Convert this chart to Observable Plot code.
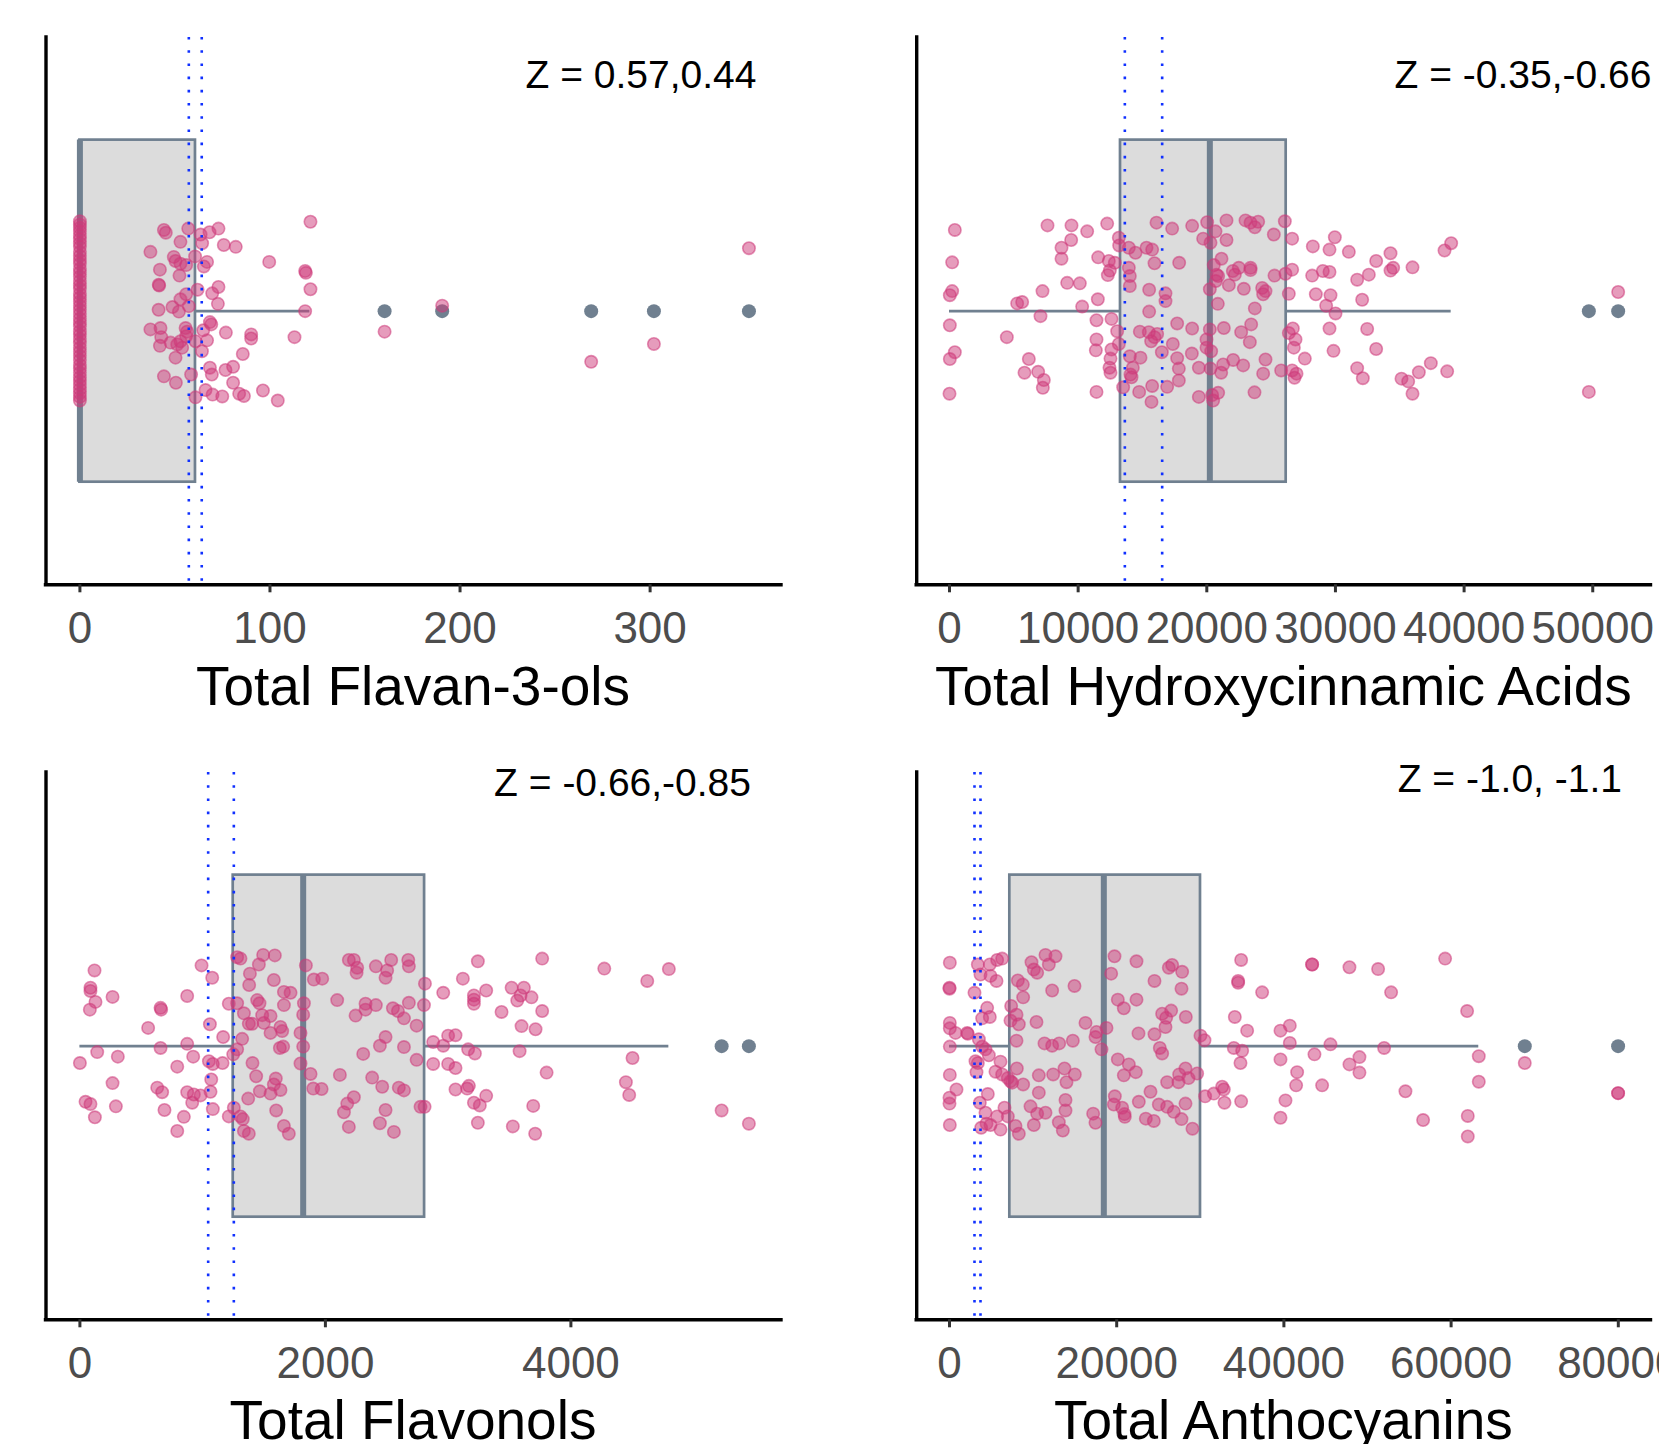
<!DOCTYPE html>
<html><head><meta charset="utf-8">
<script src="https://cdn.jsdelivr.net/npm/d3@7"></script>
<script src="https://cdn.jsdelivr.net/npm/@observablehq/plot@0.6"></script>
<style>
html,body{margin:0;padding:0;background:#fff;overflow:hidden;width:1659px;height:1444px;}
#chart{position:relative;width:1659px;height:1444px;overflow:hidden;}
.panel{position:absolute;}
</style>
</head><body><div id="chart"></div>
<script>
// ---------- data: [value, vertical jitter] ----------
const flavan3olsPoints = [
[0,0.197],[0,0.19],[0,0.183],[0,0.175],[0,0.166],[0,0.158],[0,0.149],[0,0.141],[0,0.13],[0,0.121],[0,0.112],[0,0.104],[0,0.093],[0,0.085],[0,0.076],[0,0.066],[0,0.057],[0,0.049],[0,0.038],[0,0.03],[0,0.021],[0,0.012],[0,0.003],[0,-0.006],[0,-0.016],[0,-0.025],[0,-0.033],[0,-0.044],[0,-0.052],[0,-0.061],[0,-0.07],[0,-0.08],[0,-0.089],[0,-0.098],[0,-0.107],[0,-0.118],[0,-0.126],[0,-0.135],[0,-0.145],[0,-0.153],[0,-0.162],[0,-0.171],[0,-0.18],[0,-0.188],[0,-0.196],
[121.3,0.196],[44.2,0.178],[45.2,0.172],[57.0,0.181],[63.5,0.168],[68.2,0.173],[72.9,0.181],[52.9,0.152],[64.3,0.149],[75.7,0.145],[82.0,0.141],[37.1,0.130],[49.4,0.119],[50.3,0.110],[52.9,0.104],[55.9,0.101],[60.6,0.120],[66.9,0.108],[65.2,0.098],[99.6,0.108],[42.1,0.091],[118.5,0.088],[118.9,0.084],[52.4,0.078],[41.5,0.058],[41.7,0.056],[72.9,0.053],[61.9,0.047],[69.6,0.039],[121.3,0.048],[55.9,0.037],[52.9,0.026],[72.6,0.016],[41.4,0.003],[48.7,0.009],[52.1,-0.001],[57.3,0.011],[118.5,0.000],[190.6,0.012],[160.3,-0.045],[68.4,-0.024],[69.1,-0.029],[37.1,-0.040],[42.4,-0.037],[42.8,-0.057],[55.6,-0.037],[56.4,-0.045],[55.9,-0.055],[64.9,-0.042],[76.8,-0.047],[90.1,-0.051],[90.1,-0.060],[112.9,-0.057],[42.1,-0.076],[47.7,-0.069],[51.2,-0.073],[53.8,-0.080],[52.9,-0.066],[60.8,-0.066],[66.9,-0.064],[64.2,-0.088],[85.7,-0.094],[50.3,-0.102],[68.4,-0.124],[69.4,-0.139],[76.6,-0.129],[80.6,-0.122],[44.2,-0.143],[50.5,-0.157],[58.5,-0.139],[80.6,-0.157],[66.1,-0.173],[69.8,-0.183],[74.9,-0.187],[83.8,-0.181],[86.3,-0.186],[96.3,-0.174],[60.8,-0.189],[104.1,-0.196],[352.0,0.138],[269.0,-0.111],[302.0,-0.072]
];
const hydroxycinnamicPoints = [
[415,0.178],[207,0.107],[207,0.044],[26,0.035],[26,-0.031],[415,-0.090],[26,-0.105],[0,-0.181],
[7618,0.188],[9483,0.188],[10701,0.175],[12255,0.192],[9457,0.156],[8706,0.139],[8706,0.115],[11556,0.118],[9146,0.062],[10131,0.061],[7229,0.044],[5260,0.017],[5648,0.020],[10312,0.010],[11530,0.026],[7073,-0.011],[11426,-0.020],[12592,-0.017],[4457,-0.057],[11426,-0.062],[11375,-0.086],[6167,-0.105],[5830,-0.135],[6892,-0.133],[7333,-0.151],[7255,-0.168],[11426,-0.177],
[13162,0.161],[13188,0.144],[13940,0.139],[14458,0.128],[12385,0.110],[12851,0.106],[12307,0.079],[12463,0.089],[13940,0.095],[14017,0.077],[14017,0.055],[13033,-0.044],[12592,-0.084],[13162,-0.072],[12514,-0.104],[12437,-0.124],[12514,-0.135],[14017,-0.099],[14846,-0.102],[14069,-0.139],[14147,-0.145],[14251,-0.124],[13499,-0.167],[14743,-0.177],[15701,-0.199],
[15313,0.139],[15753,0.135],[16090,0.194],[17308,0.181],[18862,0.187],[20028,0.195],[20676,0.175],[19718,0.159],[20288,0.150],[21532,0.156],[15935,0.105],[17852,0.106],[20547,0.101],[21143,0.115],[20754,0.080],[20883,0.077],[20702,0.066],[22024,0.088],[22179,0.080],[22490,0.095],[23397,0.095],[23397,0.090],[20236,0.048],[21713,0.057],[22879,0.049],[24304,0.051],[24381,0.037],[24563,0.044],[15520,0.047],[16790,0.039],[16790,0.022],[20858,0.016],[23734,0.006],[15520,-0.001],
[21532,0.199],[23008,0.199],[23397,0.194],[23734,0.184],[23993,0.196],[26065,0.197],[25210,0.168],[26635,0.159],[25262,0.078],[26117,0.082],[26376,0.038],[26635,0.091],
[17697,-0.027],[18862,-0.038],[20236,-0.040],[21324,-0.037],[14795,-0.045],[15494,-0.046],[16142,-0.050],[15675,-0.066],[15935,-0.057],[17360,-0.072],[19976,-0.062],[19976,-0.080],[20339,-0.088],[22671,-0.046],[23449,-0.029],[23345,-0.068],[16505,-0.090],[17697,-0.103],[17826,-0.126],[17826,-0.152],[18837,-0.093],[19381,-0.124],[20288,-0.126],[21117,-0.135],[21272,-0.117],[22049,-0.107],[22827,-0.119],[24563,-0.106],[24381,-0.137],[25780,-0.130],[15753,-0.164],[16919,-0.166],[19381,-0.188],[20417,-0.184],[20883,-0.179],[20495,-0.196],[23708,-0.178],[26376,-0.048],[26765,-0.080],[26635,-0.130],
[28242,0.142],[29538,0.135],[29952,0.162],[31041,0.130],[28190,0.078],[29020,0.088],[29538,0.086],[31688,0.069],[32595,0.080],[33165,0.110],[34279,0.127],[34279,0.089],[34487,0.095],[35990,0.096],[38477,0.133],[38995,0.149],[28475,0.037],[29616,0.035],[29279,0.012],[30004,-0.005],[32077,0.025],[51976,0.042],[26688,-0.038],[26895,-0.062],[29538,-0.038],[32466,-0.039],[29849,-0.087],[33165,-0.083],[27620,-0.104],[26973,-0.137],[26817,-0.146],[31688,-0.125],[32129,-0.147],[35134,-0.148],[35653,-0.154],[35990,-0.181],[36482,-0.134],[37414,-0.114],[38684,-0.132],[49696,-0.177]
];
const flavonolsPoints = [
[119,0.166],[86,0.128],[86,0.121],[127,0.097],[81,0.080],[266,0.108],[657,0.084],[662,0.080],[556,0.040],[874,0.110],[991,0.177],[1078,0.150],[1059,0.048],[1167,0.020],[874,0.005],[657,-0.004],[141,-0.013],[309,-0.023],[0,-0.037],[923,-0.023],[793,-0.045],[1051,-0.033],[1083,-0.039],[1162,-0.037],[1070,-0.073],[266,-0.081],[630,-0.091],[670,-0.101],[874,-0.101],[928,-0.106],[983,-0.108],[915,-0.124],[1064,-0.100],[46,-0.122],[86,-0.127],[293,-0.132],[122,-0.156],[689,-0.140],[847,-0.155],[793,-0.186],[1083,-0.138],[1213,-0.154],[1254,-0.135],
[1281,0.195],[1308,0.192],[1493,0.200],[1588,0.199],[1458,0.179],[1385,0.159],[1379,0.134],[1580,0.145],[1662,0.119],[1716,0.117],[1662,0.090],[1281,0.094],[1213,0.093],[1444,0.101],[1463,0.094],[1336,0.072],[1485,0.068],[1553,0.066],[1376,0.049],[1403,0.049],[1498,0.051],[1553,0.029],[1634,0.042],[1648,0.033],[1629,-0.004],[1656,-0.001],[1322,0.016],[1249,-0.018],[1281,-0.007],[1406,-0.037],[1436,-0.066],[1466,-0.099],[1553,-0.104],[1596,-0.071],[1580,-0.084],[1634,-0.096],[1371,-0.115],[1599,-0.141],[1308,-0.154],[1327,-0.160],[1336,-0.186],[1376,-0.192],[1662,-0.175],[1702,-0.192],
[1841,0.177],[1906,0.146],[1974,0.148],[1825,0.094],[1819,0.069],[1797,0.029],[1819,-0.001],[1797,-0.038],[1879,-0.061],[1901,-0.093],[1969,-0.094],[2096,0.101],[2118,-0.063],[2191,0.189],[2232,0.189],[2259,0.172],[2254,0.161],[2411,0.175],[2503,0.166],[2490,0.150],[2536,0.189],[2675,0.189],[2680,0.175],[2246,0.067],[2327,0.093],[2327,0.080],[2411,0.090],[2550,0.083],[2591,0.077],[2640,0.061],[2680,0.095],[2743,0.045],[2490,0.020],[2444,0.001],[2640,-0.002],[2308,-0.017],[2743,-0.030],[2381,-0.069],[2463,-0.089],[2598,-0.091],[2640,-0.097],[2232,-0.112],[2178,-0.126],[2151,-0.145],[2191,-0.177],[2490,-0.140],[2444,-0.169],[2558,-0.188],[2775,-0.133],[2808,-0.133],[2811,0.137],[2803,0.090],[2878,0.009],[2878,-0.039],
[2960,0.117],[3120,0.148],[3242,0.186],[3766,0.192],[3210,0.111],[3210,0.102],[3210,0.093],[3310,0.122],[3517,0.128],[3617,0.128],[3590,0.111],[3563,0.100],[3679,0.107],[3435,0.075],[3766,0.077],[3598,0.044],[3712,0.037],[3000,0.023],[3060,0.024],[2960,0.001],[3163,-0.007],[3218,-0.016],[3582,-0.011],[3000,-0.039],[3060,-0.048],[3802,-0.058],[3060,-0.095],[3155,-0.093],[3169,-0.087],[3310,-0.109],[3210,-0.124],[3258,-0.130],[3693,-0.131],[3242,-0.168],[3527,-0.176],[3709,-0.192],[4272,0.170],[4622,0.143],[4798,0.169],[4502,-0.026],[4448,-0.079],[4475,-0.107],[5228,-0.141],[5450,-0.170]
];
const anthocyaninsPoints = [
[40,0.183],[0,0.128],[0,0.126],[2990,0.117],[3389,0.179],[3708,0.157],[4824,0.179],[5701,0.189],[6299,0.192],[5622,0.143],[4904,0.154],[4505,0.084],[4824,0.064],[3907,0.061],[40,0.051],[40,0.039],[718,0.029],[2113,0.029],[2193,0.027],[3509,0.015],[40,-0.001],[4306,-0.007],[4705,-0.020],[3907,-0.001],[3110,-0.033],[3389,-0.037],[3229,-0.057],[6100,-0.034],[40,-0.063],[837,-0.095],[0,-0.113],[0,-0.126],[5502,-0.056],[6299,-0.062],[6977,-0.070],[7496,-0.080],[4585,-0.105],[3628,-0.124],[4306,-0.146],[5701,-0.154],[6579,-0.135],[6977,-0.154],[40,-0.173],[3788,-0.179],[4426,-0.170],[4904,-0.173],[6100,-0.183],
[7376,0.088],[8173,0.144],[8771,0.135],[8811,0.107],[7296,0.056],[8293,0.048],[8014,0.069],[9808,0.184],[10486,0.161],[10087,0.168],[11483,0.200],[12679,0.197],[11881,0.179],[12280,0.122],[14951,0.132],[10406,0.053],[8014,0.012],[11363,0.006],[12280,0.001],[13117,0.006],[14752,0.012],[16267,0.051],[17583,0.031],[17463,0.020],[18181,-0.007],[18779,0.040],[8054,-0.049],[10685,-0.064],[12400,-0.062],[13755,-0.049],[13994,-0.079],[14991,-0.062],[8811,-0.084],[7296,-0.077],[10685,-0.102],[13875,-0.118],[13875,-0.141],[9688,-0.132],[10486,-0.148],[11483,-0.146],[7894,-0.175],[8293,-0.192],[10087,-0.173],[13077,-0.167],[13556,-0.185],[17184,-0.148],[17463,-0.168],
[19736,0.197],[19337,0.159],[22367,0.186],[20134,0.102],[20852,0.083],[22367,0.102],[24520,0.143],[26234,0.172],[26633,0.178],[27829,0.163],[27750,0.126],[25437,0.071],[25916,0.062],[26514,0.078],[25836,0.042],[28268,0.064],[22606,0.028],[24520,0.026],[25158,-0.004],[25437,-0.016],[20134,-0.029],[21450,-0.040],[20852,-0.064],[22287,-0.057],[19776,-0.110],[19656,-0.128],[20653,-0.135],[20932,-0.149],[20972,-0.155],[22646,-0.122],[24042,-0.100],[23483,-0.159],[24440,-0.164],[25038,-0.128],[26035,-0.133],[26833,-0.144],[27750,-0.160],[29065,-0.181],[26035,-0.079],[27391,-0.079],[27471,-0.062],[28228,-0.049],[28587,-0.070],[29623,-0.060],[28228,-0.126],[30022,0.023],[30500,0.013],
[34886,0.189],[34527,0.143],[34527,0.139],[37398,0.118],[34129,0.064],[35604,0.034],[34009,-0.004],[35006,-0.010],[34806,-0.037],[30580,-0.110],[31617,-0.104],[32613,-0.089],[32813,-0.095],[32893,-0.124],[34886,-0.121],[39591,0.034],[40707,0.045],[40707,0.007],[39591,-0.029],[41584,-0.057],[41464,-0.086],[40189,-0.119],[39591,-0.157],
[43376,0.179],[43376,0.179],[47841,0.173],[51270,0.169],[52825,0.118],[59284,0.192],[61915,0.077],[43655,-0.018],[45569,0.004],[49037,-0.024],[47841,-0.040],[49037,-0.058],[44572,-0.086],[51988,-0.004],[54539,-0.099],[56652,-0.162],[63311,-0.022],[63311,-0.078],[61995,-0.153],[61995,-0.198],[68813,-0.037],[79976,-0.103],[79976,-0.103]
];

// box statistics: [lower whisker, q1, median, q3, upper whisker]
const flavan3olsBox = [0, 0, 0, 60.8, 121];
const hydroxycinnamicBox = [0, 13292, 20236, 26170, 38995];
const flavonolsBox = [0, 1249, 1819, 2808, 4798];
const anthocyaninsBox = [0, 7216, 18460, 30022, 63310];

const flavan3olsOutliers = [160.3, 190.6, 269, 302, 352];
const hydroxycinnamicOutliers = [49696, 51976];
const flavonolsOutliers = [5228, 5450];
const anthocyaninsOutliers = [68813, 79976];

// blue dotted reference lines
const flavan3olsRefs = [57.3, 64.1];
const hydroxycinnamicRefs = [13629, 16531];
const flavonolsRefs = [1045, 1254];
const anthocyaninsRefs = [2990, 3708];

const flavan3olsTicks = [0, 100, 200, 300];
const hydroxycinnamicTicks = [0, 10000, 20000, 30000, 40000, 50000];
const flavonolsTicks = [0, 2000, 4000];
const anthocyaninsTicks = [0, 20000, 40000, 60000, 80000];

const titles = ["Total Flavan-3-ols", "Total Hydroxycinnamic Acids", "Total Flavonols", "Total Anthocyanins"];
const zLabels = ["Z = 0.57,0.44", "Z = -0.35,-0.66", "Z = -0.66,-0.85", "Z = -1.0, -1.1"];

const boxHalf = 0.375;
const yDomain = [0.4, 1.6];

const FONT = "'Liberation Sans', Arial, Helvetica, sans-serif";
const PINK = "#cd3a7a";
const SLATE = "#708090";

function drawPanel(cfg) {
  const [lo, q1, med, q3, hi] = cfg.box;
  const stats = [{lo, q1, med, q3, hi}];
  const svg = Plot.plot({
    width: cfg.width, height: cfg.height,
    marginLeft: cfg.frameLeft, marginRight: cfg.width - cfg.frameRight,
    marginTop: cfg.frameTop, marginBottom: cfg.height - cfg.frameBottom,
    x: {domain: cfg.domain, axis: null},
    y: {domain: yDomain, axis: null},
    style: {fontFamily: FONT, overflow: "visible", maxWidth: "none", background: "transparent", color: "black"},
    marks: [
      Plot.rect(stats, {x1: "q1", x2: "q3", y1: 1 - boxHalf, y2: 1 + boxHalf, fill: "#dcdcdc", stroke: SLATE, strokeWidth: 2.7}),
      Plot.ruleY(stats, {y: 1, x1: "lo", x2: "q1", stroke: SLATE, strokeWidth: 2.7}),
      Plot.ruleY(stats, {y: 1, x1: "q3", x2: "hi", stroke: SLATE, strokeWidth: 2.7}),
      Plot.ruleX(stats, {x: "med", y1: 1 - boxHalf, y2: 1 + boxHalf, stroke: SLATE, strokeWidth: 6}),
      Plot.dot(cfg.outliers, {x: d => d, y: 1, r: 7, fill: SLATE, stroke: "none"}),
      Plot.dot(cfg.points, {x: d => d[0], y: d => 1 + d[1], r: 6.2, fill: PINK, fillOpacity: 0.5, stroke: PINK, strokeOpacity: 0.55, strokeWidth: 1.6}),
      Plot.ruleX(cfg.refs, {stroke: "#1030ff", strokeWidth: 2.6, strokeDasharray: "2.6,10.6"}),
      Plot.ruleX([cfg.domain[0]], {stroke: "black", strokeWidth: 3.4, strokeLinecap: "square"}),
      Plot.ruleY([yDomain[0]], {stroke: "black", strokeWidth: 3.4, strokeLinecap: "square"}),
      Plot.axisX(cfg.ticks, {anchor: "bottom", tickSize: 8, tickPadding: 19, fontSize: 44, stroke: "#333333", fill: "#4d4d4d", strokeWidth: 3, label: null, tickFormat: d => String(d)})
    ]
  });
  const s = d3.select(svg);
  s.append("text").attr("x", cfg.titleX).attr("y", cfg.titleY).attr("text-anchor", "middle")
    .attr("font-size", 55).attr("fill", "black").attr("font-family", FONT).text(cfg.title);
  s.append("text").attr("x", cfg.zX).attr("y", cfg.zY).attr("text-anchor", cfg.zAnchor)
    .attr("font-size", 39).attr("fill", "black").attr("font-family", FONT).text(cfg.z);
  const div = document.createElement("div");
  div.className = "panel";
  div.style.left = cfg.left + "px";
  div.style.top = cfg.top + "px";
  div.style.width = cfg.width + "px";
  div.style.height = cfg.height + "px";
  div.appendChild(svg);
  document.getElementById("chart").appendChild(div);
}

const common = {height: 735, frameTop: 37, frameBottom: 584.3};
const leftGeom = {left: 0, width: 830, frameLeft: 45.5, frameRight: 781, titleX: 413};
const rightGeom = {left: 830, width: 829, frameLeft: 86.2, frameRight: 820.5, titleX: 453.4};

drawPanel({...common, ...leftGeom, top: 0, domain: [-17.84, 369.13], box: flavan3olsBox, outliers: flavan3olsOutliers,
  points: flavan3olsPoints, refs: flavan3olsRefs, ticks: flavan3olsTicks, title: titles[0], titleY: 705,
  z: zLabels[0], zX: 756.5, zY: 88, zAnchor: "end"});
drawPanel({...common, ...rightGeom, top: 0, domain: [-2549.6, 54528], box: hydroxycinnamicBox, outliers: hydroxycinnamicOutliers,
  points: hydroxycinnamicPoints, refs: hydroxycinnamicRefs, ticks: hydroxycinnamicTicks, title: titles[1], titleY: 705,
  z: zLabels[1], zX: 564.5, zY: 88, zAnchor: "start"});
drawPanel({...common, ...leftGeom, top: 735, domain: [-276.2, 5715.7], box: flavonolsBox, outliers: flavonolsOutliers,
  points: flavonolsPoints, refs: flavonolsRefs, ticks: flavonolsTicks, title: titles[2], titleY: 704,
  z: zLabels[2], zX: 751, zY: 61, zAnchor: "end"});
drawPanel({...common, ...rightGeom, top: 735, domain: [-3923, 83911], box: anthocyaninsBox, outliers: anthocyaninsOutliers,
  points: anthocyaninsPoints, refs: anthocyaninsRefs, ticks: anthocyaninsTicks, title: titles[3], titleY: 704,
  z: zLabels[3], zX: 792, zY: 57, zAnchor: "end"});
</script></body></html>
